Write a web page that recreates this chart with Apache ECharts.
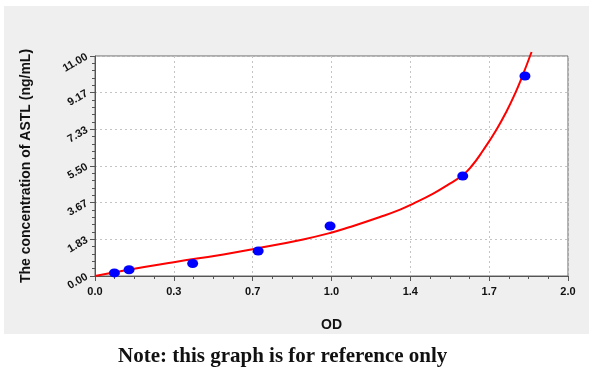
<!DOCTYPE html>
<html>
<head>
<meta charset="utf-8">
<script src="https://cdn.jsdelivr.net/npm/echarts@6/dist/echarts.min.js"></script>
<style>html,body{margin:0;padding:0;background:#fff;}#c{width:600px;height:370px;}</style>
</head>
<body>
<div id="c"></div>
<script>
// Standard points (OD, concentration ng/mL)
var pointOD = [0.082, 0.144, 0.413, 0.690, 0.994, 1.555, 1.818];
var pointConc = [0.156, 0.3125, 0.625, 1.25, 2.5, 5, 10];
// Fitted curve
var curveOD = [0, 0.148, 0.333, 0.543, 0.667, 0.88, 0.994, 1.078, 1.205, 1.29, 1.346, 1.43, 1.487, 1.555, 1.593, 1.642, 1.698, 1.741, 1.778, 1.804, 1.822, 1.846];
var curveConc = [0, 0.33, 0.69, 1.08, 1.34, 1.83, 2.15, 2.45, 2.95, 3.32, 3.62, 4.12, 4.52, 5.05, 5.5, 6.3, 7.33, 8.25, 9.17, 9.9, 10.45, 11.2];
// Tick labels
var xTickLabels = ['0.0', '0.3', '0.7', '1.0', '1.4', '1.7', '2.0'];
var yTickLabels = ['0.00', '1.83', '3.67', '5.50', '7.33', '9.17', '11.00'];
var xTitle = 'OD';
var yTitle = 'The concentration of ASTL (ng/mL)';
var note = 'Note: this graph is for reference only';

var xMax = 2, yMax = 11, nTicks = 6;
var xInt = xMax / nTicks, yInt = yMax / nTicks;

var chart = echarts.init(document.getElementById('c'));
var pts = pointOD.map(function (x, i) { return [x, pointConc[i]]; });
var crv = curveOD.map(function (x, i) { return [x, curveConc[i]]; });

chart.setOption({
  animation: false,
  backgroundColor: '#ffffff',
  graphic: [
    { type: 'rect', z: -10, shape: { x: 4, y: 6, width: 585, height: 328 }, style: { fill: '#efefef' } },
    { type: 'text', left: 118, top: 346, style: { text: note, fill: '#111', font: 'bold 21px "Liberation Serif", serif' } }
  ],
  grid: { left: 95, right: 32, top: 56, bottom: 94, show: true, backgroundColor: '#ffffff', borderColor: '#666', borderWidth: 1 },
  xAxis: {
    type: 'value', min: 0, max: xMax, interval: xInt,
    name: xTitle, nameLocation: 'middle', nameGap: 42,
    nameTextStyle: { fontFamily: 'Liberation Sans', fontWeight: 'bold', fontSize: 14, color: '#111' },
    axisLine: { show: true, lineStyle: { color: '#555', width: 1 } },
    axisTick: { show: true, length: 5, lineStyle: { color: '#555' } },
    minorTick: { show: true, splitNumber: 4, length: 3, lineStyle: { color: '#555' } },
    axisLabel: {
      margin: 10, fontFamily: 'Liberation Sans', fontWeight: 'bold', fontSize: 11, color: '#111',
      formatter: function (v) { return xTickLabels[Math.round(v / xInt)]; }
    },
    splitLine: { show: true, lineStyle: { color: '#c4c4c4', type: [2, 3], width: 1 } }
  },
  yAxis: {
    type: 'value', min: 0, max: yMax, interval: yInt,
    name: yTitle, nameLocation: 'middle', nameGap: 62, nameRotate: 90,
    nameTextStyle: { fontFamily: 'Liberation Sans', fontWeight: 'bold', fontSize: 14, color: '#111' },
    axisLine: { show: true, lineStyle: { color: '#555', width: 1 } },
    axisTick: { show: true, length: 5, lineStyle: { color: '#555' } },
    minorTick: { show: true, splitNumber: 5, length: 3, lineStyle: { color: '#555' } },
    axisLabel: {
      margin: 8, rotate: 30, fontFamily: 'Liberation Sans', fontWeight: 'bold', fontSize: 11, color: '#111',
      formatter: function (v) { return yTickLabels[Math.round(v / yInt)]; }
    },
    splitLine: { show: true, lineStyle: { color: '#c4c4c4', type: [2, 3], width: 1 } }
  },
  series: [
    {
      type: 'line', data: crv, smooth: 0.5, showSymbol: false, clip: false,
      lineStyle: { color: '#ff0000', width: 2 }, z: 2
    },
    {
      type: 'scatter', data: pts, symbol: 'circle', symbolSize: [11, 9],
      itemStyle: { color: '#0000ff', opacity: 1 }, z: 3
    }
  ]
});
</script>
</body>
</html>
